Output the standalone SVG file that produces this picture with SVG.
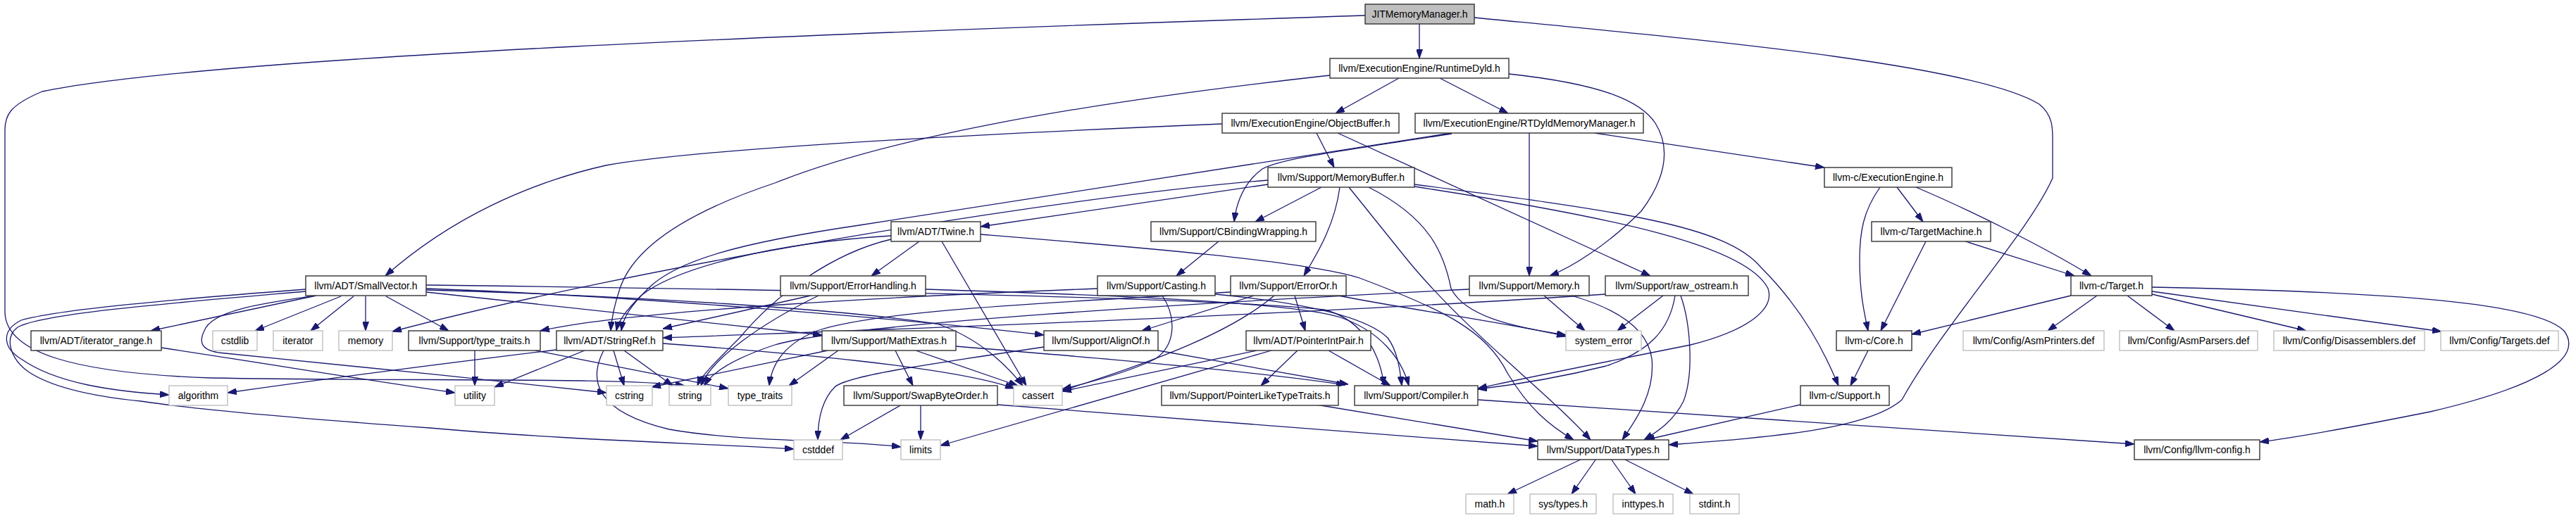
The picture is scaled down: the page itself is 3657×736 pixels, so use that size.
<svg xmlns="http://www.w3.org/2000/svg" width="3657" height="736" viewBox="0 0 3657 736">
<style>
.n rect{fill:#fff;stroke:#333;stroke-width:1.4}
.g rect{fill:#fff;stroke:#bfbfbf;stroke-width:1.4}
.root rect{fill:#bfbfbf;stroke:#333;stroke-width:1.4}
text{font-family:"Liberation Sans",Arial,sans-serif;font-size:14px;text-anchor:middle;fill:#000}
#edges path{fill:none;stroke:#191970;stroke-width:1.3;marker-end:url(#ah)}
</style>
<defs>
<marker id="ah" viewBox="0 0 13 9" refX="13" refY="4.5" markerWidth="13" markerHeight="9" markerUnits="userSpaceOnUse" orient="auto">
<path d="M0,0 L13,4.5 L0,9 z" fill="#191970" stroke="#191970"/>
</marker>
</defs>
<rect width="3657" height="736" fill="#fff"/>
<g id="edges">
<path d="M2015,34 L2015,83"/>
<path d="M2093,25 C2400,55 2800,90 2895,148 C2916,165 2914,185 2914,205 L2914,253 C2880,330 2760,460 2700,568 C2650,612 2500,622 2369,632"/>
<path d="M1938,22 C1200,46 300,80 60,130 C12,150 7,165 7,185 L7,445 C10,500 100,530 300,537 C600,542 880,536 972,548"/>
<path d="M1888,107 C1500,150 1250,200 1100,260 C980,300 900,350 880,410 C870,440 868,455 867,470"/>
<path d="M1986,111 L1896,161"/>
<path d="M2044,111 L2141,161"/>
<path d="M2142,105 C2280,120 2330,145 2350,175 C2375,215 2360,260 2330,300 C2280,350 2230,380 2200,392"/>
<path d="M1735,176 C1400,190 1000,210 860,235 C750,260 640,310 547,392"/>
<path d="M1869,189 L1894,238"/>
<path d="M1899,189 L2343,392"/>
<path d="M2264,189 L2590,238"/>
<path d="M2061,189 L1220,320 C1050,345 960,370 920,410 C895,435 885,450 882,470"/>
<path d="M2061,190 C1900,215 1820,225 1792,240 C1765,260 1755,290 1752,315"/>
<path d="M2171,189 L2171,392"/>
<path d="M1800,262 L1392,322"/>
<path d="M1876,266 L1782,315"/>
<path d="M1800,256 C1500,280 900,380 557,471"/>
<path d="M1902,266 C1895,320 1870,360 1851,392"/>
<path d="M1915,266 L1997,368 C2080,470 2200,560 2258,625"/>
<path d="M1943,266 C2030,310 2050,360 2060,410 C2080,450 2150,465 2223,476"/>
<path d="M2008,262 C2300,300 2450,320 2500,380 C2560,440 2590,500 2610,548"/>
<path d="M2008,265 C2300,310 2480,350 2510,410 C2520,440 2480,470 2400,490 C2250,520 2150,540 2098,552"/>
<path d="M2669,266 C2645,300 2640,330 2640,370 C2640,420 2648,450 2652,470"/>
<path d="M2693,266 L2730,315"/>
<path d="M2720,266 C2800,300 2900,350 2969,392"/>
<path d="M2734,343 L2670,470"/>
<path d="M2790,343 L2945,392"/>
<path d="M2940,420 L2714,475"/>
<path d="M2977,420 L2907,470"/>
<path d="M3020,420 L3087,470"/>
<path d="M3055,418 L3274,470"/>
<path d="M3055,414 L3466,471"/>
<path d="M3055,408 C3400,415 3600,430 3640,470 C3670,510 3600,550 3450,585 C3350,605 3270,620 3208,628"/>
<path d="M2652,498 L2627,548"/>
<path d="M2556,575 L2336,625"/>
<path d="M2098,568 L3030,631"/>
<path d="M2246,652 L2140,702"/>
<path d="M2266,652 L2231,702"/>
<path d="M2287,652 L2322,702"/>
<path d="M2305,652 L2404,702"/>
<path d="M1869,575 L2183,627"/>
<path d="M1280,575 L1193,625"/>
<path d="M1307,575 L1307,625"/>
<path d="M1416,575 C1700,598 1950,618 2183,634"/>
<path d="M1886,498 L1974,548"/>
<path d="M1842,498 L1790,548"/>
<path d="M1784,498 L1508,556"/>
<path d="M1805,498 L1335,633"/>
<path d="M1644,498 L1914,546"/>
<path d="M1482,493 C1300,520 1200,535 1185,550 C1165,570 1161,600 1161,625"/>
<path d="M1271,498 L1296,548"/>
<path d="M1300,498 L1445,548"/>
<path d="M1357,492 C1600,512 1800,530 1910,547"/>
<path d="M1190,498 L1120,548"/>
<path d="M1175,498 L925,550"/>
<path d="M790,497 C600,520 450,540 323,558"/>
<path d="M830,498 L702,550"/>
<path d="M871,498 L886,548"/>
<path d="M886,498 L955,548"/>
<path d="M857,498 C835,540 845,585 950,610 C1050,628 1200,625 1279,635"/>
<path d="M941,488 C1100,500 1350,520 1440,552"/>
<path d="M674,498 L674,548"/>
<path d="M760,498 L1034,552"/>
<path d="M229,494 C400,520 550,545 646,558"/>
<path d="M449,420 L214,470"/>
<path d="M484,421 L362,470"/>
<path d="M502,421 L441,470"/>
<path d="M519,421 L519,470"/>
<path d="M548,421 L637,470"/>
<path d="M434,411 C250,425 80,440 30,455 C0,470 5,495 30,510 C80,545 160,556 240,561"/>
<path d="M434,414 C250,430 60,445 25,465 C5,480 15,510 40,528 C80,555 150,565 200,570 C300,585 500,600 610,608 C800,625 1000,630 1127,638"/>
<path d="M448,420 C380,430 300,440 290,470 C280,490 290,500 320,502 C450,515 700,540 861,558"/>
<path d="M605,415 L1167,476"/>
<path d="M605,410 C900,420 1300,455 1482,476"/>
<path d="M605,412 C900,420 1200,440 1330,460 C1390,480 1430,520 1452,548"/>
<path d="M605,405 C1000,410 1700,420 1880,440 C1940,455 1960,510 1965,548"/>
<path d="M1305,343 L1237,392"/>
<path d="M1337,343 L1457,548"/>
<path d="M1392,333 C1600,350 1850,370 1930,395 C2050,440 2110,470 2140,530 C2170,580 2200,605 2234,625"/>
<path d="M1265,335 C1100,345 960,380 910,420 C890,440 878,455 875,470"/>
<path d="M1265,340 C1180,360 1100,420 1050,480 C1010,520 995,535 990,548"/>
<path d="M1151,420 L941,467"/>
<path d="M1162,420 C1080,460 1010,510 995,548"/>
<path d="M1314,411 C1600,420 1830,430 1900,450 C1960,470 1990,510 2000,548"/>
<path d="M1725,418 C1850,430 1940,450 1970,480 C1985,500 1988,530 1990,548"/>
<path d="M1558,410 C1300,420 900,440 767,470"/>
<path d="M1650,420 C1670,450 1670,490 1640,510 C1600,530 1540,545 1508,553"/>
<path d="M1838,420 L1853,470"/>
<path d="M1780,420 L1621,470"/>
<path d="M1809,420 C1750,470 1650,510 1508,555"/>
<path d="M1900,420 C2000,440 2150,460 2223,478"/>
<path d="M1747,415 C1500,430 1250,440 1160,470 C1110,490 1095,520 1092,548"/>
<path d="M2192,420 L2250,470"/>
<path d="M2231,420 C2300,440 2340,470 2345,510 C2350,560 2320,600 2303,625"/>
<path d="M2086,411 C1700,430 1200,460 1100,490 C1040,510 1010,530 1000,548"/>
<path d="M2361,420 L2296,470"/>
<path d="M2378,420 C2370,470 2340,500 2280,520 C2200,540 2140,548 2098,553"/>
<path d="M2386,420 C2400,460 2405,530 2390,570 C2375,600 2350,615 2334,625"/>
<path d="M2279,418 C1800,450 1200,470 941,480"/>
<path d="M1730,343 L1670,392"/>
</g>
<g id="n_jit" class="root"><rect x="1938" y="6" width="155" height="28"/><text x="2015.5" y="25">JITMemoryManager.h</text></g>
<g id="n_runtimedyld" class="n"><rect x="1888" y="83" width="254" height="28"/><text x="2015" y="102">llvm/ExecutionEngine/RuntimeDyld.h</text></g>
<g id="n_objectbuffer" class="n"><rect x="1735" y="161" width="251" height="28"/><text x="1860.5" y="180">llvm/ExecutionEngine/ObjectBuffer.h</text></g>
<g id="n_rtdyldmm" class="n"><rect x="2009" y="161" width="324" height="28"/><text x="2171" y="180">llvm/ExecutionEngine/RTDyldMemoryManager.h</text></g>
<g id="n_memorybuffer" class="n"><rect x="1800" y="238" width="208" height="28"/><text x="1904" y="257">llvm/Support/MemoryBuffer.h</text></g>
<g id="n_ee" class="n"><rect x="2590" y="238" width="181" height="28"/><text x="2680.5" y="257">llvm-c/ExecutionEngine.h</text></g>
<g id="n_twine" class="n"><rect x="1265" y="315" width="127" height="28"/><text x="1328.5" y="334">llvm/ADT/Twine.h</text></g>
<g id="n_cbinding" class="n"><rect x="1634" y="315" width="234" height="28"/><text x="1751" y="334">llvm/Support/CBindingWrapping.h</text></g>
<g id="n_targetmachine" class="n"><rect x="2657" y="315" width="169" height="28"/><text x="2741.5" y="334">llvm-c/TargetMachine.h</text></g>
<g id="n_smallvector" class="n"><rect x="434" y="392" width="171" height="28"/><text x="519.5" y="411">llvm/ADT/SmallVector.h</text></g>
<g id="n_errorhandling" class="n"><rect x="1108" y="392" width="206" height="28"/><text x="1211" y="411">llvm/Support/ErrorHandling.h</text></g>
<g id="n_casting" class="n"><rect x="1558" y="392" width="167" height="28"/><text x="1641.5" y="411">llvm/Support/Casting.h</text></g>
<g id="n_erroror" class="n"><rect x="1747" y="392" width="164" height="28"/><text x="1829" y="411">llvm/Support/ErrorOr.h</text></g>
<g id="n_memory_h" class="n"><rect x="2086" y="392" width="170" height="28"/><text x="2171" y="411">llvm/Support/Memory.h</text></g>
<g id="n_raw_ostream" class="n"><rect x="2279" y="392" width="203" height="28"/><text x="2380.5" y="411">llvm/Support/raw_ostream.h</text></g>
<g id="n_target" class="n"><rect x="2940" y="392" width="115" height="28"/><text x="2997.5" y="411">llvm-c/Target.h</text></g>
<g id="n_iterator_range" class="n"><rect x="44" y="470" width="185" height="28"/><text x="136.5" y="489">llvm/ADT/iterator_range.h</text></g>
<g id="n_cstdlib" class="g"><rect x="302" y="470" width="63" height="28"/><text x="333.5" y="489">cstdlib</text></g>
<g id="n_iterator" class="g"><rect x="388" y="470" width="70" height="28"/><text x="423" y="489">iterator</text></g>
<g id="n_memory" class="g"><rect x="481" y="470" width="76" height="28"/><text x="519" y="489">memory</text></g>
<g id="n_type_traits_h" class="n"><rect x="580" y="470" width="187" height="28"/><text x="673.5" y="489">llvm/Support/type_traits.h</text></g>
<g id="n_stringref" class="n"><rect x="790" y="470" width="151" height="28"/><text x="865.5" y="489">llvm/ADT/StringRef.h</text></g>
<g id="n_mathextras" class="n"><rect x="1167" y="470" width="190" height="28"/><text x="1262" y="489">llvm/Support/MathExtras.h</text></g>
<g id="n_alignof" class="n"><rect x="1482" y="470" width="162" height="28"/><text x="1563" y="489">llvm/Support/AlignOf.h</text></g>
<g id="n_pointerintpair" class="n"><rect x="1769" y="470" width="177" height="28"/><text x="1857.5" y="489">llvm/ADT/PointerIntPair.h</text></g>
<g id="n_system_error" class="g"><rect x="2223" y="470" width="107" height="28"/><text x="2276.5" y="489">system_error</text></g>
<g id="n_core" class="n"><rect x="2607" y="470" width="107" height="28"/><text x="2660.5" y="489">llvm-c/Core.h</text></g>
<g id="n_asmprinters" class="g"><rect x="2787" y="470" width="200" height="28"/><text x="2887" y="489">llvm/Config/AsmPrinters.def</text></g>
<g id="n_asmparsers" class="g"><rect x="3009" y="470" width="196" height="28"/><text x="3107" y="489">llvm/Config/AsmParsers.def</text></g>
<g id="n_disassemblers" class="g"><rect x="3228" y="470" width="214" height="28"/><text x="3335" y="489">llvm/Config/Disassemblers.def</text></g>
<g id="n_targets" class="g"><rect x="3465" y="470" width="167" height="28"/><text x="3548.5" y="489">llvm/Config/Targets.def</text></g>
<g id="n_algorithm" class="g"><rect x="240" y="548" width="83" height="28"/><text x="281.5" y="567">algorithm</text></g>
<g id="n_utility" class="g"><rect x="646" y="548" width="56" height="28"/><text x="674" y="567">utility</text></g>
<g id="n_cstring" class="g"><rect x="861" y="548" width="65" height="28"/><text x="893.5" y="567">cstring</text></g>
<g id="n_string" class="g"><rect x="950" y="548" width="59" height="28"/><text x="979.5" y="567">string</text></g>
<g id="n_type_traits" class="g"><rect x="1034" y="548" width="90" height="28"/><text x="1079" y="567">type_traits</text></g>
<g id="n_swapbyteorder" class="n"><rect x="1198" y="548" width="218" height="28"/><text x="1307" y="567">llvm/Support/SwapByteOrder.h</text></g>
<g id="n_cassert" class="g"><rect x="1439" y="548" width="69" height="28"/><text x="1473.5" y="567">cassert</text></g>
<g id="n_pointerlike" class="n"><rect x="1649" y="548" width="251" height="28"/><text x="1774.5" y="567">llvm/Support/PointerLikeTypeTraits.h</text></g>
<g id="n_compiler" class="n"><rect x="1923" y="548" width="175" height="28"/><text x="2010.5" y="567">llvm/Support/Compiler.h</text></g>
<g id="n_support" class="n"><rect x="2556" y="548" width="126" height="28"/><text x="2619" y="567">llvm-c/Support.h</text></g>
<g id="n_cstddef" class="g"><rect x="1127" y="625" width="69" height="28"/><text x="1161.5" y="644">cstddef</text></g>
<g id="n_limits" class="g"><rect x="1279" y="625" width="56" height="28"/><text x="1307" y="644">limits</text></g>
<g id="n_datatypes" class="n"><rect x="2183" y="625" width="186" height="28"/><text x="2276" y="644">llvm/Support/DataTypes.h</text></g>
<g id="n_llvmconfig" class="n"><rect x="3030" y="625" width="178" height="28"/><text x="3119" y="644">llvm/Config/llvm-config.h</text></g>
<g id="n_math" class="g"><rect x="2081" y="702" width="68" height="28"/><text x="2115" y="721">math.h</text></g>
<g id="n_systypes" class="g"><rect x="2172" y="702" width="94" height="28"/><text x="2219" y="721">sys/types.h</text></g>
<g id="n_inttypes" class="g"><rect x="2290" y="702" width="85" height="28"/><text x="2332.5" y="721">inttypes.h</text></g>
<g id="n_stdint" class="g"><rect x="2399" y="702" width="70" height="28"/><text x="2434" y="721">stdint.h</text></g>
</svg>
